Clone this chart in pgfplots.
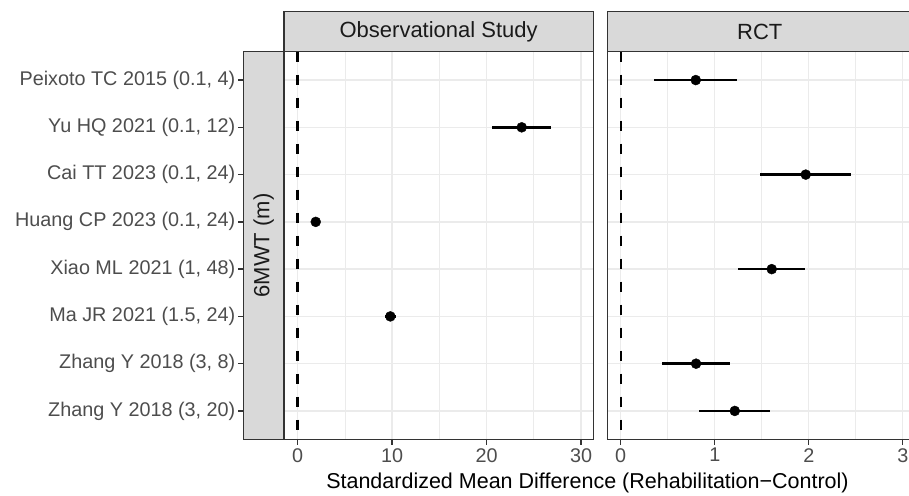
\documentclass[border=0pt]{standalone}
\usepackage{pgfplots}
\pgfplotsset{compat=1.18}
\usetikzlibrary{calc}
\usepackage{fontspec}
\setmainfont{Liberation Sans}
\definecolor{grey10}{HTML}{1A1A1A}
\definecolor{grey20}{HTML}{333333}
\definecolor{grey30}{HTML}{4D4D4D}
\definecolor{grey85}{HTML}{D9D9D9}
\definecolor{grey92}{HTML}{EBEBEB}

% row: 1 = top (Peixoto) ... 8 = bottom; xm / xp = CI half widths
\pgfplotstableread{
y x xm xp
2 23.72 3.11 3.07
4 1.91 0.30 0.30
6 9.81 0.55 0.55
}\obsdata
\pgfplotstableread{
y x xm xp
1 0.798 0.441 0.436
3 1.968 0.486 0.485
5 1.606 0.355 0.355
7 0.801 0.358 0.359
8 1.213 0.377 0.375
}\rctdata

\pgfplotsset{
  panel/.style={
    scale only axis, anchor=south west,
    height=387.6bp,
    ymin=0.4, ymax=8.6, y dir=reverse,
    ytick={1,...,8},
    axis line style={grey20, line width=1.4bp},
    tick align=outside,
    major tick length=5.5bp, minor tick length=0pt,
    tick style={grey20, line width=1.3bp},
    y tick style={draw=none},
    xmajorgrids, ymajorgrids, xminorgrids,
    minor x tick num=1,
    major grid style={grey92, line width=1.3bp},
    minor grid style={grey92, line width=0.8bp},
    ticklabel style={font=\fontsize{19.8bp}{23bp}\selectfont, text=grey30},
    /pgf/number format/assume math mode=true,
    clip=false,
  },
  vline/.style={black, line width=2.4bp, dash pattern=on 10bp off 13bp},
  ci/.style={only marks, mark=*, mark size=5bp, black,
    mark options={fill=black, draw=black},
    error bars/.cd, x dir=both, x explicit,
    error bar style={line width=2.6bp, black}, error mark=none},
}

\begin{document}
\begin{tikzpicture}
\useasboundingbox (0,0) rectangle (909bp,496bp);

\begin{axis}[panel, name=p1, at={(284bp,56.7bp)}, width=309.3bp,
    xmin=-1.45, xmax=31.3, xtick={0,10,20,30},
    yticklabels={Peixoto TC 2015 (0.1{,} 4), Yu HQ 2021 (0.1{,} 12),
      Cai TT 2023 (0.1{,} 24), Huang CP 2023 (0.1{,} 24),
      Xiao ML 2021 (1{,} 48), Ma JR 2021 (1.5{,} 24),
      Zhang Y 2018 (3{,} 8), Zhang Y 2018 (3{,} 20)},
    yticklabel style={anchor=east, inner sep=0pt, xshift=-43bp},
  ]
  \addplot[vline] coordinates {(0,0.4) (0,8.6)};
  \addplot[ci] table[x=x, y=y, x error minus=xm, x error plus=xp] {\obsdata};
\end{axis}

\begin{axis}[panel, name=p2, at={(607.3bp,56.7bp)}, width=303bp,
    xmin=-0.143, xmax=3.080, xtick={0,1,2,3},
    yticklabels={},
  ]
  \addplot[vline] coordinates {(0,0.4) (0,8.6)};
  \addplot[ci] table[x=x, y=y, x error minus=xm, x error plus=xp] {\rctdata};
\end{axis}

% panel borders
\draw[grey20, line width=1.4bp] (p1.south west) rectangle (p1.north east);
\draw[grey20, line width=1.4bp] (p2.south west) rectangle (p2.north east);

% facet strips
\draw[fill=grey85, draw=grey20, line width=1.4bp]
  (p1.north west) rectangle ([yshift=40bp]p1.north east)
  node[midway, text=grey10, font=\fontsize{22bp}{26bp}\selectfont] {Observational Study};
\draw[fill=grey85, draw=grey20, line width=1.4bp]
  (p2.north west) rectangle ([yshift=40bp,xshift=2bp]p2.north east)
  node[midway, text=grey10, font=\fontsize{22bp}{26bp}\selectfont] {RCT};
\draw[fill=grey85, draw=grey20, line width=1.4bp]
  ([xshift=-40.7bp]p1.south west) rectangle (p1.north west)
  node[midway, rotate=90, text=grey10, font=\fontsize{22bp}{26bp}\selectfont] {6MWT (m)};

% y ticks sit outside the left strip
\foreach \i in {1,...,8}{
  \draw[grey20, line width=1.3bp]
    ([xshift=-40.7bp]$(p1.north west)!{(\i-0.4)/8.2}!(p1.south west)$) -- ++(-5.5bp,0);
}

\node[anchor=base, font=\fontsize{21.5bp}{25bp}\selectfont] at (587.5bp,8bp)
  {Standardized Mean Difference (Rehabilitation−Control)};
\end{tikzpicture}
\end{document}
